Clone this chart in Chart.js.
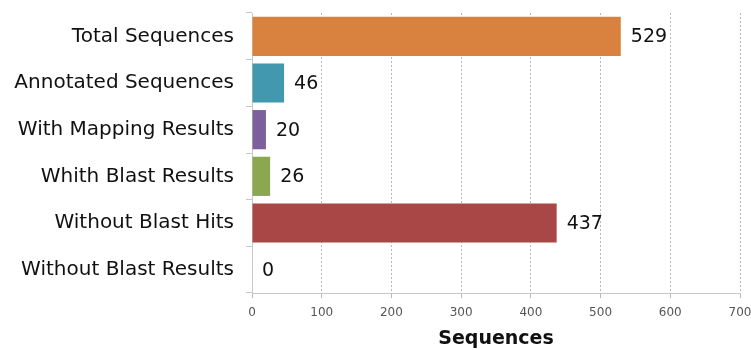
<!DOCTYPE html>
<html lang="en">
<head>
    <meta charset="UTF-8">
    <title>Sequences</title>
    <script src="https://cdn.jsdelivr.net/npm/chart.js"></script>
    <style>
        html, body { margin: 0; padding: 0; background: #fff; }
        #wrap { width: 751px; height: 350px; }
    </style>
</head>
<body>
    <div id="wrap"><canvas id="chart" width="751" height="350"></canvas></div>
    <script>
        var categories = ['Total Sequences', 'Annotated Sequences', 'With Mapping Results',
            'Whith Blast Results', 'Without Blast Hits', 'Without Blast Results'];
        var counts = [529, 46, 20, 26, 437, 0];
        var barColors = ['#d9823f', '#4198af', '#7d5f9e', '#8ba74f', '#a94646', '#cccccc'];
        var xTicks = [0, 100, 200, 300, 400, 500, 600, 700];

        var font = 'DejaVu Sans';

        // draw the value next to each bar
        var valueLabels = {
            id: 'valueLabels',
            afterDatasetsDraw: function(chart) {
                var ctx = chart.ctx;
                var meta = chart.getDatasetMeta(0);
                ctx.save();
                ctx.font = '19px "' + font + '"';
                ctx.fillStyle = '#111';
                ctx.textBaseline = 'middle';
                ctx.textAlign = 'left';
                meta.data.forEach(function(bar, i) {
                    ctx.fillText(String(counts[i]), bar.x + 10, bar.y + 1);
                });
                ctx.restore();
            }
        };

        new Chart(document.getElementById('chart').getContext('2d'), {
            type: 'bar',
            data: {
                labels: categories,
                datasets: [{
                    data: counts,
                    backgroundColor: barColors,
                    barPercentage: 0.84,
                    categoryPercentage: 1.0
                }]
            },
            options: {
                indexAxis: 'y',
                responsive: false,
                animation: false,
                layout: { padding: { top: 13, right: 11, bottom: 0, left: 0 } },
                plugins: { legend: { display: false }, tooltip: { enabled: false } },
                scales: {
                    x: {
                        min: 0,
                        max: 700,
                        afterBuildTicks: function(scale) {
                            scale.ticks = xTicks.map(function(v) { return { value: v }; });
                        },
                        afterFit: function(scale) {
                            scale.height = 57;
                            scale.paddingLeft = 0;
                            scale.paddingRight = 0;
                        },
                        grid: {
                            color: '#b8b8b8',
                            tickColor: '#b8b8b8',
                            tickLength: 5,
                            drawOnChartArea: true
                        },
                        border: { color: '#c8c8c8', dash: [2, 2] },
                        ticks: {
                            color: '#555',
                            font: { family: font, size: 12 },
                            padding: 8,
                            maxRotation: 0
                        },
                        title: {
                            display: true,
                            text: 'Sequences',
                            color: '#111',
                            font: { family: font, size: 19, weight: 'bold' },
                            padding: { top: 4, bottom: 0 }
                        }
                    },
                    y: {
                        afterFit: function(scale) {
                            scale.width = 252;
                            scale.paddingTop = 0;
                            scale.paddingBottom = 0;
                        },
                        grid: {
                            offset: true,
                            drawOnChartArea: false,
                            tickLength: 6,
                            tickColor: '#c8c8c8'
                        },
                        border: { color: '#c8c8c8' },
                        ticks: {
                            color: '#111',
                            font: { family: font, size: 20 },
                            padding: 12
                        }
                    }
                }
            },
            plugins: [valueLabels]
        });
    </script>
</body>
</html>
